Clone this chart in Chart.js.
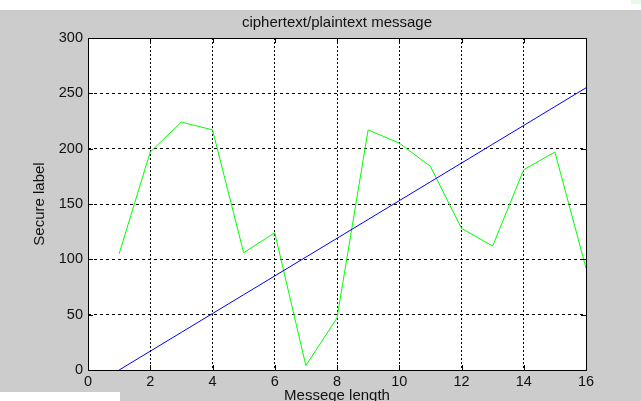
<!DOCTYPE html>
<html>
<head>
<meta charset="utf-8">
<script src="https://cdn.jsdelivr.net/npm/chart.js@4.4.1/dist/chart.umd.min.js"></script>
<style>
  html, body { margin: 0; padding: 0; background: #ffffff; overflow: hidden; }
  #frame { position: absolute; left: 0; top: 10px; width: 641px; height: 391px; background: #cccccc; overflow: hidden; }
  #wrap { position: absolute; left: 0; top: -10px; width: 641px; height: 420px; }
  #corner { position: absolute; right: 0; top: 0; width: 10px; height: 4px; background: #eaf7ea; }
  #patch { position: absolute; left: 0; top: 392px; width: 120px; height: 9px; background: #ffffff; }
</style>
</head>
<body>
<div id="frame"><div id="wrap"><canvas id="myChart" width="641" height="420"></canvas></div></div>
<div id="corner"></div>
<div id="patch"></div>
<script>
window.addEventListener('DOMContentLoaded', () => {
    const messageLength = [1, 2, 3, 4, 5, 6, 7, 8, 9, 10, 11, 12, 13, 14, 15, 16]
    const cipherValues = [105, 197, 224, 217, 106, 124, 4, 47, 217, 205, 184, 128, 112, 181, 197, 92]
    const plainValues = [0, 17, 34, 51, 68, 85, 102, 119, 136, 153, 170, 187, 204, 221, 238, 255]
    const xTicks = [0, 2, 4, 6, 8, 10, 12, 14, 16]
    const yTicks = [0, 50, 100, 150, 200, 250, 300]

    const font = { family: "'Liberation Sans', Arial, sans-serif", size: 15, lineHeight: '16px' }
    const tickFont = { family: "'Liberation Sans', Arial, sans-serif", size: 14.5, lineHeight: '16px' }
    const ink = '#111111'

    // box round the plot and the short solid ticks inside it, like matlab
    const boxPlugin = {
        id: 'box',
        afterDatasetsDraw(chart) {
            const { ctx, chartArea: a, scales } = chart
            ctx.save()
            ctx.strokeStyle = '#000000'
            ctx.lineWidth = 1
            ctx.beginPath()
            xTicks.forEach(v => {
                const x = Math.round(scales.x.getPixelForValue(v)) + 0.5
                ctx.moveTo(x, a.bottom); ctx.lineTo(x, a.bottom - 5)
                ctx.moveTo(x, a.top); ctx.lineTo(x, a.top + 5)
            })
            yTicks.forEach(v => {
                const y = Math.round(scales.y.getPixelForValue(v)) + 0.5
                ctx.moveTo(a.left, y); ctx.lineTo(a.left + 5, y)
                ctx.moveTo(a.right, y); ctx.lineTo(a.right - 5, y)
            })
            ctx.stroke()
            ctx.strokeRect(Math.round(a.left) + 0.5, Math.round(a.top) + 0.5, Math.round(a.right - a.left), Math.round(a.bottom - a.top))
            ctx.restore()
        }
    }

    const whiteArea = {
        id: 'whiteArea',
        beforeDraw(chart) {
            const { ctx, chartArea: a } = chart
            ctx.save()
            ctx.fillStyle = '#ffffff'
            ctx.fillRect(a.left, a.top, a.right - a.left, a.bottom - a.top)
            ctx.restore()
        }
    }

    const ctx = document.getElementById('myChart').getContext('2d')
    const myChart = new Chart(ctx, {
        type: 'line',
        data: {
            datasets: [{
                label: 'plaintext',
                data: messageLength.map((x, i) => ({ x, y: plainValues[i] })),
                borderColor: '#0000ff',
                borderWidth: 1,
                pointRadius: 0,
                tension: 0
            }, {
                label: 'ciphertext',
                data: messageLength.map((x, i) => ({ x, y: cipherValues[i] })),
                borderColor: '#00ff00',
                borderWidth: 1,
                pointRadius: 0,
                tension: 0
            }]
        },
        options: {
            responsive: false,
            animation: false,
            layout: { padding: { left: 0, right: 55, top: 0, bottom: 0 } },
            plugins: {
                legend: { display: false },
                tooltip: { enabled: false }
            },
            scales: {
                x: {
                    type: 'linear',
                    min: 0,
                    max: 16,
                    afterFit(scale) { scale.height = 50 },
                    afterBuildTicks(scale) { scale.ticks = xTicks.map(v => ({ value: v })) },
                    grid: { color: '#000000', drawTicks: false },
                    border: { display: false, dash: [2, 2] },
                    ticks: { color: ink, font: tickFont, padding: 4, maxRotation: 0 },
                    title: { display: true, text: 'Messege length', color: ink, font, padding: { top: 0, bottom: 16 } }
                },
                // top axis only carries the title, so it sits centred over the plot
                top: {
                    type: 'linear',
                    position: 'top',
                    min: 0,
                    max: 16,
                    afterFit(scale) { scale.height = 38 },
                    grid: { display: false, drawTicks: false },
                    border: { display: false },
                    ticks: { display: false },
                    title: { display: true, text: 'ciphertext/plaintext message', color: ink, font, padding: { top: 15, bottom: 0 } }
                },
                y: {
                    type: 'linear',
                    min: 0,
                    max: 300,
                    afterFit(scale) { scale.width = 88 },
                    afterBuildTicks(scale) { scale.ticks = yTicks.map(v => ({ value: v })) },
                    grid: { color: '#000000', drawTicks: false },
                    border: { display: false, dash: [3, 3] },
                    ticks: { color: ink, font: tickFont, padding: 5 },
                    title: { display: true, text: 'Secure label', color: ink, font, padding: { top: 32, bottom: 0 } }
                }
            }
        },
        plugins: [whiteArea, boxPlugin]
    })
})
</script>
</body>
</html>
